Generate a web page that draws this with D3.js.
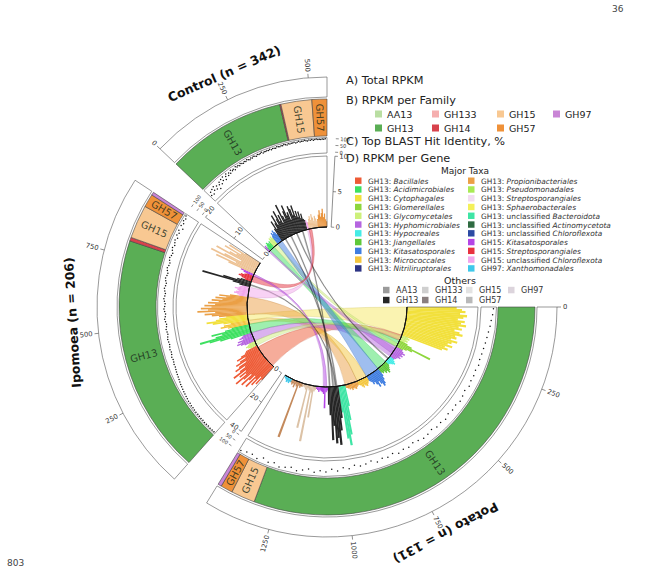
<!DOCTYPE html>
<html><head><meta charset="utf-8">
<script src="https://cdn.jsdelivr.net/npm/d3@7"></script>
<style>
html,body{margin:0;padding:0;background:#fff;}
svg{display:block;font-family:"DejaVu Sans",sans-serif;}
</style></head><body>
<svg id="chart" width="659" height="570" font-family="DejaVu Sans"></svg>
<script>
// ================= DATA =================
const sectorNames = ["Potato", "Ipomoea", "Control"];
const sectorTitles = ["Potato (n = 131)", "Ipomoea (n = 206)", "Control (n = 342)"];

const familyNames = ["GH13", "GH14", "GH15", "GH57", "GH97"];
const potatoFamilyRPKM  = [1320, 0, 80, 40, 12];
const ipomoeaFamilyRPKM = [800, 12, 112, 44, 10];
const controlFamilyRPKM = [399, 4, 103, 50, 0];

const potatoTicks  = [0, 250, 500, 750, 1000, 1250];
const ipomoeaTicks = [250, 500, 750];
const controlTicks = [0, 250, 500];

const potatoGeneTicks  = [0, 20, 40];
const ipomoeaGeneTicks = [0, 10, 20];
const controlGeneTicks = [0, 5, 10];
const identityTicks = [0, 50, 100];

// RPKM per gene, grouped by taxon, in drawing order
const potatoGenes = [
  ["GH13: Cytophagales", [28,31,33,30,34,32,29,33,31,34,30,32,28,31,33,29,30,27,31,28,26,29,25,27,24]],
  ["GH13: Glycomycetales", [4,5,3.5,4.5,3]],
  ["GH13: Glomerellales", [5,8,20,9,6,4]],
  ["GH13: Hyphomicrobiales", [4,5,6.5,5,6,4.5,5.5,4,3.5,3]],
  ["GH13: Hypocreales", [3,4,5,4,3,2.5]],
  ["GH13: Jiangellales", [3,4,5,6,4.5,5,3.5,4,3]],
  ["GH13: Kitasatosporales", [5,7,9,10,8,6,9,7,5,6,4,3]],
  ["GH13: Micrococcales", [3,4,5,4.5,3.5,5,4,3,2.5]],
  ["GH13: Propionibacteriales", [2.5,3,4,3.5,3,4,2.8,3.2,2.5,2,1.8]],
  ["GH13: unclassified Bacteroidota", [12,20,28,34,30,15]],
  ["GH13 other", [18,25,33,29,32,22,30,16,10]],
  ["GH15: Kitasatosporales", [2,3,12,4,3,2.5,2,3,2,1.5]],
  ["GH15 other", [2,3,18,4,32,3,2,25,3,2,1.5,2]],
  ["GH57 other", [2,3,2,33,3,2,4,2,3,2]],
  ["GH97: Xanthomonadales", [2,3,2.5,3,2,1.5,1]]
];
const ipomoeaGenes = [
  ["GH13: Bacillales", [5,7,4.5,8,6,9.5,5.5,7.5,10,6,8.5,11,7,9,6.5,10.5,8,6,9,7.5,5,8,6.5,4.5,7,5.5,4,3.5]],
  ["GH13: Glycomycetales", [2,2.5,3,2.2,1.8]],
  ["GH13: Hyphomicrobiales", [3,4,5,3.5,4.5,2.8,3.8,3,2.5]],
  ["GH13: Acidimicrobiales", [6,9,12,14.7,10,8,11,7,5]],
  ["GH13: Micrococcales", [6,8,7,5]],
  ["GH13: Cytophagales", [7,10,11.7,9,8,6]],
  ["GH13: Propionibacteriales", [8,10,12,9,14,11,13,10,12,9,11,8,10,7,9,6,8,5]],
  ["GH15: unclassified Chloroflexota", [2.5,3,4,3.5,2.8,3.2,4,3,2.6,2.2]],
  ["GH13 other", [3,5,14,8,4,3]],
  ["GH15: Streptosporangiales", [2,3,4,3.5,2.5,2]],
  ["GH15: Kitasatosporales", [3,4]],
  ["GH15 other", [8,12,6,14,10,5,13,9,7,11,6,10,5]]
];
const controlGenes = [
  ["GH13: Hyphomicrobiales", [0.8,1.0]],
  ["GH13: Acidimicrobiales", [0.6,0.9,1.2,1.0,0.8,1.1]],
  ["GH13: Glycomycetales", [1.0,1.4,1.2,1.5,1.1]],
  ["GH13: Kitasatosporales", [1.3,1.8,1.5,2.0,1.6,1.2]],
  ["GH13 other", [2.0,3.1,1.8,2.6,3.8,2.2,3.0,4.2,2.5,3.4,2.1,4.8,3.0,2.4,3.6,4.4,2.8,3.2,2.0,4.0,3.5,2.6,3.9,2.3,3.0,2.0,2.8,1.8,2.4,1.6,1.4]],
  ["GH15: unclassified Chloroflexota", [1.3,1.0]],
  ["GH15 other", [1.0,1.4,1.8,1.2,2.0,1.5,1.0,1.7,1.3,0.9]],
  ["GH57 other", [1.2,1.8,2.4,1.5,2.0,2.6,1.4,1.9,1.1,0.8]]
];

// Top BLAST hit identity (%) along each sector
const potatoIdentity  = [85,80,72,68,62,58,55,52,50,48,55,47,52,50,58,45,53,60,50,55,48,62,52,57,45,55,60,50,42,55,48,58,40,52,45,60,38,50,55,42,62,48,70,55,75,65,80,60,72,85,68,78,90,70,82,65,88,75,80,92];
const ipomoeaIdentity = [99,98,99,97,98,99,96,98,97,95,97,96,94,95,92,93,90,88,86,84,
  82,80,78,75,72,70,68,66,63,60,62,58,56,60,55,52,57,54,50,53,
  56,52,48,51,55,50,47,53,58,52,49,55,60,54,51,57,62,56,53,59,
  64,58,55,62,67,60,57,65,70,63,60,68,73,66,62,72,78,68,75,82,
  70,85,76,88,65,90,80,92,85,95];
const controlIdentity = [40,62,35,70,52,78,45,66,30,58,74,50,82,64,88,55,76,90,68,84,
  72,92,80,87,75,93,85,90,82,95,88,84,91,86,94,89,83,92,87,96,
  90,85,93,88,91,97,86,92,89,94,90,95,87,93,91,88,96,92,89,94,
  91,97,93,88,95,90,94,92,96,89,93,97,91,95,92,98,94,90,96,93,
  97,92,95,98,94,96,93,97,95,98];

// chords: taxon, sectorA, groupA, firstGene, lastGene, sectorB, groupB, firstGene, lastGene
const chordLinks = [
  ["GH13: Cytophagales", "Potato","GH13: Cytophagales",0,24, "Ipomoea","GH13: Cytophagales",0,5],
  ["GH13: Bacillales", "Ipomoea","GH13: Bacillales",2,25, "Potato","GH13: Glycomycetales",0,4],
  ["GH13: Propionibacteriales", "Ipomoea","GH13: Propionibacteriales",0,17, "Potato","GH13: Propionibacteriales",0,10],
  ["GH13: Micrococcales", "Ipomoea","GH13: Micrococcales",0,3, "Potato","GH13: Micrococcales",0,8],
  ["GH13: Acidimicrobiales", "Ipomoea","GH13: Acidimicrobiales",0,8, "Potato","GH13: Glomerellales",0,5],
  ["GH13: Hyphomicrobiales", "Ipomoea","GH13: Hyphomicrobiales",0,8, "Potato","GH13: Hyphomicrobiales",0,9],
  ["GH13: Glycomycetales", "Ipomoea","GH13: Glycomycetales",0,4, "Potato","GH13: Glycomycetales",1,3],
  ["GH13: Acidimicrobiales", "Control","GH13: Acidimicrobiales",0,5, "Potato","GH13: Jiangellales",0,8],
  ["GH13: Glycomycetales", "Control","GH13: Glycomycetales",0,4, "Potato","GH13: Glomerellales",3,5],
  ["GH13: Kitasatosporales", "Control","GH13: Kitasatosporales",0,5, "Potato","GH13: Kitasatosporales",0,11],
  ["GH13: Hyphomicrobiales", "Control","GH13: Hyphomicrobiales",0,1, "Potato","GH13: Hyphomicrobiales",2,6],
  ["GH13 other", "Control","GH13 other",4,4, "Potato","GH13 other",1,1],
  ["GH13 other", "Control","GH13 other",11,11, "Potato","GH13 other",4,4],
  ["GH13 other", "Control","GH13 other",18,18, "Potato","GH13: Hypocreales",2,2],
  ["GH13 other", "Control","GH13 other",25,25, "Potato","GH13 other",7,7],
  ["GH13 other", "Ipomoea","GH13 other",2,2, "Potato","GH13 other",2,2],
  ["GH15: unclassified Chloroflexota", "Ipomoea","GH15: unclassified Chloroflexota",0,9, "Control","GH15: unclassified Chloroflexota",0,1],
  ["GH15: Streptosporangiales", "Ipomoea","GH15: Streptosporangiales",0,5, "Control","GH15 other",0,2],
  ["GH15: Kitasatosporales", "Ipomoea","GH15: Kitasatosporales",0,1, "Potato","GH15: Kitasatosporales",1,3]
];

// legends
const familyLegend = ["AA13", "GH133", "GH15", "GH97", "GH13", "GH14", "GH57"];
const majorTaxa = [
  "GH13: Bacillales", "GH13: Acidimicrobiales", "GH13: Cytophagales", "GH13: Glomerellales",
  "GH13: Glycomycetales", "GH13: Hyphomicrobiales", "GH13: Hypocreales", "GH13: Jiangellales",
  "GH13: Kitasatosporales", "GH13: Micrococcales", "GH13: Nitriliruptorales",
  "GH13: Propionibacteriales", "GH13: Pseudomonadales", "GH13: Streptosporangiales", "GH13: Sphaerobacterales",
  "GH13: unclassified Bacteroidota", "GH13: unclassified Actinomycetota", "GH13: unclassified Chloroflexota",
  "GH15: Kitasatosporales", "GH15: Streptosporangiales", "GH15: unclassified Chloroflexota", "GH97: Xanthomonadales"
];
const otherFamilies = ["AA13", "GH133", "GH15", "GH97", "GH13", "GH14", "GH57"];

// ================= STYLE =================
const FONT = "DejaVu Sans";
const familyColor = {AA13:"#b9dea2", GH133:"#f5aeae", GH15:"#f8c892", GH97:"#c985d6", GH13:"#5aae55", GH14:"#d8424c", GH57:"#ef9139"};
const majorTaxaColors = ["#ee5a35","#3de060","#f2e03c","#8ed63c","#cdf07a","#b565e0","#45ece6","#5fc83a","#3f7de0","#f4c63d","#2c3384",
  "#eba046","#a9ea55","#f2dcf2","#f4f05a","#3fe5a5","#2f6b41","#2b4aa3","#b445e6","#e8313f","#f2a6ec","#3ec8ea"];
const otherColors = ["#9a9a9a","#cfcfcf","#e3e3e3","#dcd4dc","#262626","#8a7f7f","#b9b9b9"];
const taxonColor = {};
majorTaxa.forEach((t,i) => taxonColor[t] = majorTaxaColors[i]);
taxonColor["GH13 other"] = "#262626";
taxonColor["GH15 other"] = "#edc294";
taxonColor["GH57 other"] = "#e9953f";
const potatoOverride = {"GH15 other":"#dcc2a6", "GH57 other":"#c48a5c"};

const cx = 327, cy = 307;
const R = {dIn:80, dOut:151, cIn:154, cOut:169.5, bIn:171, bOut:208, aIn:210, aOut:230};
const START = 90, GAP = 10;

// ================= BUILD =================
const svg = d3.select("#chart");
const rad = d => d * Math.PI / 180;
const g = svg.append("g").attr("transform", `translate(${cx},${cy})`).attr("font-family", FONT);
const pt = (r, deg) => [r * Math.sin(rad(deg)), -r * Math.cos(rad(deg))];

const sectorFamily = [potatoFamilyRPKM, ipomoeaFamilyRPKM, controlFamilyRPKM];
const sectorGenes = [potatoGenes, ipomoeaGenes, controlGenes];
const sectorIdentity = [potatoIdentity, ipomoeaIdentity, controlIdentity];
const sectorTicks = [potatoTicks, ipomoeaTicks, controlTicks];
const sectorGeneTicks = [potatoGeneTicks, ipomoeaGeneTicks, controlGeneTicks];

const totals = sectorFamily.map(d => d3.sum(d));
const degPer = (360 - START - 2 * GAP) / d3.sum(totals);
let cur = START;
const sectors = sectorNames.map((name, i) => {
  const s = cur, e = cur + totals[i] * degPer;
  cur = e + GAP;
  const sec = {name, i, start: s, end: e,
    angle: d3.scaleLinear().domain([0, totals[i]]).range([s, e])};
  const genes = [], spans = {};
  sectorGenes[i].forEach(([taxon, vals]) => {
    spans[taxon] = {first: genes.length, n: vals.length};
    vals.forEach(v => genes.push({taxon, v}));
  });
  sec.genes = genes; sec.spans = spans;
  sec.band = d3.scaleBand().domain(d3.range(genes.length)).range([s, e]);
  sec.rScale = d3.scaleLinear().domain([0, d3.max(sectorGeneTicks[i])]).range([R.dIn, R.dOut]);
  return sec;
});
const secBy = Object.fromEntries(sectors.map(s => [s.name, s]));
const colorOf = (sec, taxon) => (sec.name === "Potato" && potatoOverride[taxon]) || taxonColor[taxon];

// ---- chords ----
const ribbon = d3.ribbon().radius(R.dIn);
const endpoint = (sName, taxon, a, b) => {
  const sec = secBy[sName], sp = sec.spans[taxon], bw = sec.band.bandwidth();
  return {startAngle: rad(sec.band(sp.first + a)), endAngle: rad(sec.band(sp.first + b) + bw)};
};
g.append("g").selectAll("path").data(chordLinks).join("path")
  .attr("d", d => ribbon({source: endpoint(d[1], d[2], d[3], d[4]), target: endpoint(d[5], d[6], d[7], d[8])}))
  .attr("fill", d => taxonColor[d[0]])
  .attr("fill-opacity", d => d[0] === "GH13 other" ? 0.35 : (d[0] === "GH13: Cytophagales" ? 0.4 : 0.5))
  .attr("stroke", d => d3.color(taxonColor[d[0]]).darker(0.6))
  .attr("stroke-opacity", 0.55).attr("stroke-width", 0.5);

// ---- gene bars (track D) ----
const arc = d3.arc();
sectors.forEach(sec => {
  const bw = sec.band.bandwidth();
  g.append("g").selectAll("path").data(sec.genes).join("path")
    .attr("d", (d, k) => arc({innerRadius: R.dIn, outerRadius: sec.rScale(d.v),
      startAngle: rad(sec.band(k)), endAngle: rad(sec.band(k) + bw) + 0.002}))
    .attr("fill", d => colorOf(sec, d.taxon));
});

// ---- track boxes ----
const boxes = g.append("g").attr("fill", "none");
sectors.forEach(sec => {
  [[R.dIn, R.dOut], [R.cIn, R.cOut], [R.aIn, R.aOut]].forEach(([ri, ro]) => {
    boxes.append("path")
      .attr("d", arc({innerRadius: ri, outerRadius: ro, startAngle: rad(sec.start), endAngle: rad(sec.end)}))
      .attr("stroke", "#555").attr("stroke-width", 0.6);
  });
  boxes.append("path")
    .attr("d", d3.arc()({innerRadius: R.dIn, outerRadius: R.dIn, startAngle: rad(sec.start), endAngle: rad(sec.end)}))
    .attr("stroke", "#111").attr("stroke-width", 1);
});

// ---- identity dots (track C) ----
const idR = d3.scaleLinear().domain([0, 100]).range([R.cIn + 1, R.cOut - 1]);
sectors.forEach(sec => {
  const vals = sectorIdentity[sec.i];
  const ps = d3.scalePoint().domain(d3.range(vals.length)).range([sec.start + 0.6, sec.end - 0.6]);
  g.append("g").selectAll("circle").data(vals).join("circle")
    .attr("cx", (v, k) => pt(idR(v), ps(k))[0])
    .attr("cy", (v, k) => pt(idR(v), ps(k))[1])
    .attr("r", 0.75).attr("fill", "#111");
});

// ---- family band (track B) ----
sectors.forEach(sec => {
  let acc = 0;
  const segs = sectorFamily[sec.i].map((v, k) => {
    const s = {fam: familyNames[k], v, a0: sec.angle(acc), a1: sec.angle(acc + v)};
    acc += v; return s;
  }).filter(s => s.v > 0);
  const bg = g.append("g");
  bg.selectAll("path").data(segs).join("path")
    .attr("d", s => arc({innerRadius: R.bIn, outerRadius: R.bOut, startAngle: rad(s.a0), endAngle: rad(s.a1)}))
    .attr("fill", s => familyColor[s.fam]).attr("stroke", "#444").attr("stroke-width", 0.6);
  bg.selectAll("text").data(segs.filter(s => s.a1 - s.a0 > 3)).join("text")
    .attr("transform", s => {
      const m = (s.a0 + s.a1) / 2, p = pt((R.bIn + R.bOut) / 2, m);
      const rot = (m % 360) < 180 ? m - 90 : m + 90;
      return `translate(${p[0]},${p[1]}) rotate(${rot})`;
    })
    .attr("text-anchor", "middle").attr("dominant-baseline", "central")
    .attr("font-size", 10).attr("fill", "#1d2e1d").attr("fill-opacity", 0.85)
    .text(s => s.fam);
});

// ---- outer axis (track A) ticks ----
sectors.forEach(sec => {
  const ag = g.append("g");
  sectorTicks[sec.i].forEach(t => {
    const a = sec.angle(t);
    const p1 = pt(R.aOut, a), p2 = pt(R.aOut + 4, a), p3 = pt(R.aOut + 6, a);
    ag.append("line").attr("x1", p1[0]).attr("y1", p1[1]).attr("x2", p2[0]).attr("y2", p2[1])
      .attr("stroke", "#444").attr("stroke-width", 0.6);
    const right = (a % 360) < 180;
    ag.append("text").attr("transform", `translate(${p3[0]},${p3[1]}) rotate(${right ? a - 90 : a + 90})`)
      .attr("text-anchor", right ? "start" : "end").attr("dominant-baseline", "central")
      .attr("font-size", 6.8).attr("fill", "#333").text(t);
  });
});

// ---- gene axis (D) and identity axis (C) at sector ends ----
sectors.forEach(sec => {
  const phi = sec.end + 3;
  const T = [Math.cos(rad(phi)), Math.sin(rad(phi))];
  const flip = (phi % 360) > 90 && (phi % 360) < 270;
  const rot = flip ? phi - 180 : phi;
  const ax = g.append("g");
  const a0 = pt(R.dIn, phi), a1 = pt(R.dOut, phi);
  ax.append("line").attr("x1", a0[0]).attr("y1", a0[1]).attr("x2", a1[0]).attr("y2", a1[1])
    .attr("stroke", "#444").attr("stroke-width", 0.6);
  const addTick = (r, label, fs) => {
    const p = pt(r, phi);
    ax.append("line").attr("x1", p[0]).attr("y1", p[1]).attr("x2", p[0] + 3 * T[0]).attr("y2", p[1] + 3 * T[1])
      .attr("stroke", "#444").attr("stroke-width", 0.6);
    ax.append("text").attr("transform", `translate(${p[0] + 4.5 * T[0]},${p[1] + 4.5 * T[1]}) rotate(${rot})`)
      .attr("text-anchor", flip ? "end" : "start").attr("dominant-baseline", "central")
      .attr("font-size", fs).attr("fill", "#333").text(label);
  };
  sectorGeneTicks[sec.i].forEach(t => addTick(sec.rScale(t), t, 6.8));
  identityTicks.forEach(t => addTick(idR(t), t, 5));
});

// ---- sector titles ----
const titleShift = [1.5, 4, -0.5];
sectors.forEach(sec => {
  const m = (sec.start + sec.end) / 2 + titleShift[sec.i];
  const p = pt(255, m);
  g.append("text").attr("transform", `translate(${p[0]},${p[1]}) rotate(${m})`)
    .attr("text-anchor", "middle").attr("dominant-baseline", "central")
    .attr("font-size", 12.5).attr("font-weight", "bold").attr("fill", "#111")
    .text(sectorTitles[sec.i]);
});

// ================= LEGEND =================
const lg = svg.append("g").attr("fill", "#222").attr("font-family", FONT);
const heading = (txt, y) => lg.append("text").attr("x", 346).attr("y", y).attr("font-size", 11.3).text(txt);
heading("A) Total RPKM", 84);
heading("B) RPKM per Family", 104);
heading("C) Top BLAST Hit Identity, %", 145);
heading("D) RPKM per Gene", 162);

const famCols = [375, 432, 497, 553], famRows = [114, 128];
familyLegend.forEach((f, k) => {
  const x = famCols[k < 4 ? k : k - 4], y = famRows[k < 4 ? 0 : 1];
  lg.append("rect").attr("x", x).attr("y", y - 3.5).attr("width", 7).attr("height", 7).attr("fill", familyColor[f]);
  lg.append("text").attr("x", x + 12).attr("y", y).attr("dominant-baseline", "central").attr("font-size", 9.5).text(f);
});

lg.append("text").attr("x", 465).attr("y", 174).attr("text-anchor", "middle").attr("font-size", 9).text("Major Taxa");
majorTaxa.forEach((t, k) => {
  const col = k < 11 ? 0 : 1, row = k % 11;
  const x = col ? 468 : 355, y = 180.7 + row * 8.77;
  lg.append("rect").attr("x", x).attr("y", y - 3.2).attr("width", 6.5).attr("height", 6.4).attr("fill", majorTaxaColors[k]);
  const [fam, rest] = t.split(": ");
  const tx = lg.append("text").attr("x", x + 13).attr("y", y).attr("dominant-baseline", "central")
    .attr("font-size", 7.4).attr("fill", "#333");
  let pre = fam + ": ", name = rest;
  if (rest.startsWith("unclassified ")) { pre += "unclassified "; name = rest.slice(13); }
  tx.append("tspan").text(pre);
  tx.append("tspan").attr("font-style", "italic").text(name);
});

lg.append("text").attr("x", 460).attr("y", 284).attr("text-anchor", "middle").attr("font-size", 9.5).text("Others");
const othCols = [383, 422, 466, 508], othRows = [290, 300];
otherFamilies.forEach((f, k) => {
  const x = othCols[k < 4 ? k : k - 4], y = othRows[k < 4 ? 0 : 1];
  lg.append("rect").attr("x", x).attr("y", y - 3.2).attr("width", 6.5).attr("height", 6.5).attr("fill", otherColors[k]);
  lg.append("text").attr("x", x + 13).attr("y", y).attr("dominant-baseline", "central").attr("font-size", 8).attr("fill", "#333").text(f);
});

// page decorations
svg.append("text").attr("x", 612).attr("y", 12).attr("font-size", 9).attr("fill", "#444").text("36");
svg.append("text").attr("x", 7).attr("y", 566).attr("font-size", 9).attr("fill", "#444").text("803");
</script>
</body></html>
